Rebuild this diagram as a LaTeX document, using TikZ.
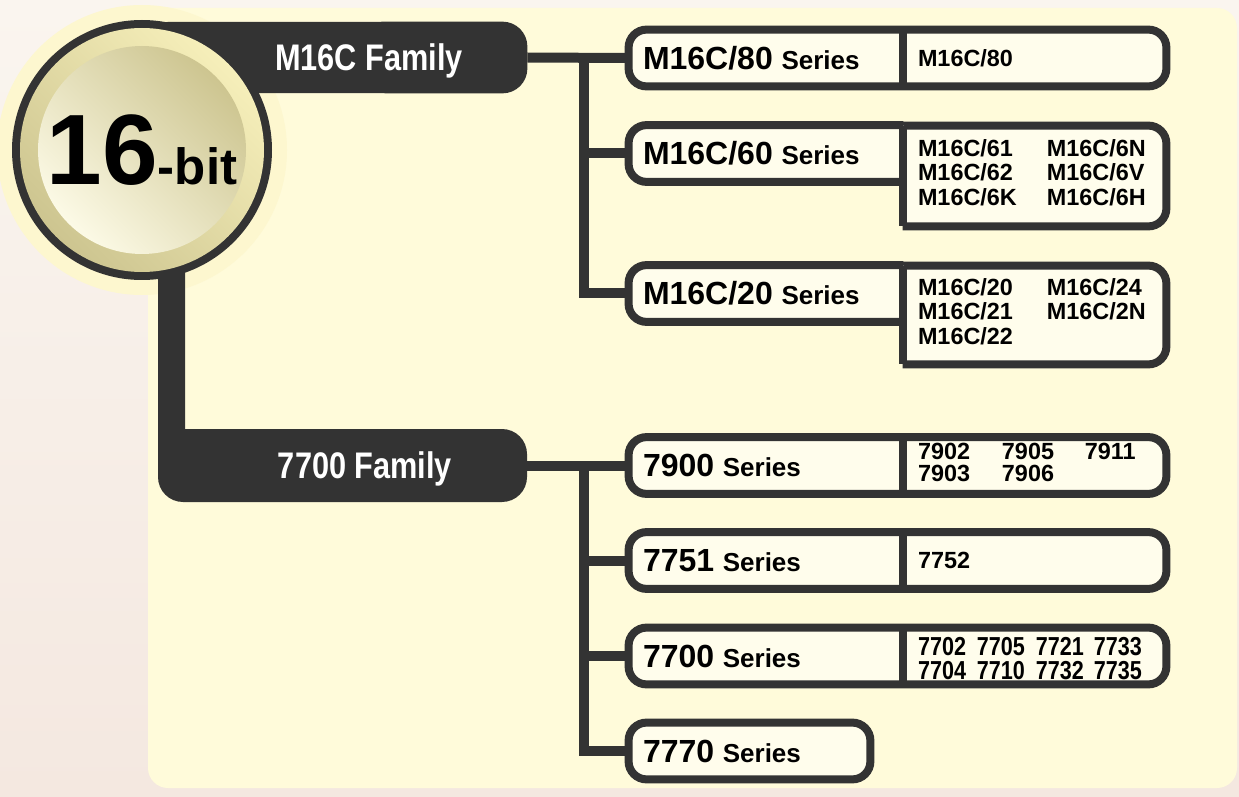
\documentclass[tikz,border=0pt]{standalone}
\usepackage{fontspec}
\setmainfont{Liberation Sans}
\newfontfamily\narrowfont{Liberation Sans}[FakeStretch=0.83]
\usetikzlibrary{backgrounds}

\definecolor{dark}{HTML}{333333}
\definecolor{panel}{HTML}{FFFBDA}
\definecolor{boxfill}{HTML}{FFFDEC}
\definecolor{halo}{HTML}{FDF7CF}
\definecolor{bgtop}{HTML}{FAF5EF}
\definecolor{bgbottom}{HTML}{F4E8E0}
\definecolor{khaki}{HTML}{CDC590}
\definecolor{paleg}{HTML}{F6EFBA}
\definecolor{lightg}{HTML}{FCFAE6}

\newcommand{\sernum}[1]{{\fontsize{16}{16}\selectfont #1}}
\newcommand{\subsize}{\fontsize{11.7}{12}\selectfont}

\begin{document}
\begin{tikzpicture}[x=0.5pt, y=-0.5pt,
    wire/.style={dark, line width=5pt},
    boxline/.style={draw=dark, fill=boxfill, line width=4pt, rounded corners=9pt, line cap=square},
    divline/.style={dark, line width=4pt, line cap=square},
    serlab/.style={inner xsep=7pt, inner ysep=0pt, text width=123pt, minimum height=28pt, align=left,
        font=\bfseries\fontsize{13}{13}\selectfont},
    items/.style={inner xsep=7.5pt, inner ysep=0pt, text width=116.5pt, minimum height=28pt, align=left,
        font=\bfseries\subsize},
    famlabel/.style={text=white, inner sep=0pt, text depth=0pt, font=\narrowfont\bfseries\fontsize{18.5}{18.5}\selectfont}]
    \useasboundingbox (0,0) rectangle (1239,797);

    % family labels and the round badge
    \node (bit16) at (142,150) {\bfseries\fontsize{50}{50}\selectfont 16\fontsize{25.5}{26}\selectfont -bit};
    \node[famlabel, minimum width=158pt, minimum height=35.5pt] (m16c) at (369,57.5) {M16C Family};
    \node[famlabel, minimum width=162pt, minimum height=36.5pt] (f7700) at (365,465.5) {7700 Family};

    % M16C series
    \node[serlab] (s80) at (766,58) {\sernum{M16C/80} Series};
    \node[items] (i80) at (1034.5,58) {M16C/80};
    \node[serlab] (s60) at (766,153.5) {\sernum{M16C/60} Series};
    \node[items, minimum height=50pt] (i60) at (1034.5,176) {\begin{tabular}{@{}p{64.5pt}@{}l@{}}
        M16C/61 & M16C/6N\\ M16C/62 & M16C/6V\\ M16C/6K & M16C/6H\end{tabular}};
    \node[serlab] (s20) at (766,293.5) {\sernum{M16C/20} Series};
    \node[items, minimum height=49pt] (i20) at (1034.5,315) {\begin{tabular}{@{}p{64.5pt}@{}l@{}}
        M16C/20 & M16C/24\\ M16C/21 & M16C/2N\\ M16C/22 & \end{tabular}};

    % 7700 series
    \node[serlab] (s79) at (766,465.5) {\sernum{7900} Series};
    \node[items] (i79) at (1034.5,465.5) {\def\arraystretch{0.88}\begin{tabular}{@{}p{42pt}@{}p{41.5pt}@{}l@{}}
        7902 & 7905 & 7911\\ 7903 & 7906 & \end{tabular}};
    \node[serlab] (s751) at (766,560.5) {\sernum{7751} Series};
    \node[items] (i751) at (1034.5,560.5) {7752};
    \node[serlab] (s77) at (766,656) {\sernum{7700} Series};
    \node[items, font=\narrowfont\bfseries\fontsize{13}{11.5}\selectfont] (i77) at (1034.5,656)
        {\def\arraystretch{0.88}\raisebox{0pt}[9.85pt][10.75pt]{\begin{tabular}[t]{@{}p{29.5pt}@{}p{29.5pt}@{}p{29pt}@{}l@{}}
        7702 & 7705 & 7721 & 7733\\ 7704 & 7710 & 7732 & 7735\end{tabular}}};
    \node[serlab, text width=106.5pt] (s770) at (749.5,751) {\sernum{7770} Series};

    \coordinate (ja) at (584,58);
    \coordinate (jb) at (584,465.5);
    \draw[wire] (m16c.east) -- (s80.west);
    \draw[wire] (ja) |- (s60.west);
    \draw[wire] (ja) |- (s20.west);
    \draw[wire] (f7700.east) -- (s79.west);
    \draw[wire] (jb) |- (s751.west);
    \draw[wire] (jb) |- (s77.west);
    \draw[wire] (jb) |- (s770.west);

    \begin{pgfonlayer}{background}
        \shade[top color=bgtop, bottom color=bgbottom] (0,0) rectangle (1239,797);
        \fill[panel, rounded corners=10pt] (148,8) rectangle (1237,788);
        \fill[halo] (bit16.center) circle[radius=72.5pt];

        \fill[dark, rounded corners=12.5pt] (m16c.north east) -- (m16c.south east) -- (143,93) -- (143,22) -- cycle;
        \fill[dark, rounded corners=12.5pt] (185,429) -- (527,429) -- (527,502) -- (158,502) -- (158,150) -- (185,150);

        \fill[dark] (bit16.center) circle[radius=65pt];
        \shade[left color=paleg, right color=khaki, shading angle=-45] (bit16.center) circle[radius=61pt];
        \shade[left color=khaki, middle color=paleg, right color=lightg, shading angle=-45] (bit16.center) circle[radius=52pt];

        % boxes of one row
        \filldraw[boxline] (s80.north west) rectangle (i80.south east);
        \draw[divline] (s80.north east) -- (s80.south east);
        \filldraw[boxline] (s79.north west) rectangle (i79.south east);
        \draw[divline] (s79.north east) -- (s79.south east);
        \filldraw[boxline] (s751.north west) rectangle (i751.south east);
        \draw[divline] (s751.north east) -- (s751.south east);
        \filldraw[boxline] (s77.north west) rectangle (i77.south east);
        \draw[divline] (s77.north east) -- (s77.south east);
        \filldraw[boxline] (s770.north west) rectangle (s770.south east);

        % boxes with a taller list
        \filldraw[boxline] (i60.south west) -- (i60.south east) -- (i60.north east) -- (i60.north west);
        \filldraw[boxline] (s60.north east) -- (s60.north west) -- (s60.south west) -- (s60.south east);
        \draw[divline] (i60.north west) -- (i60.south west);
        \filldraw[boxline] (i20.south west) -- (i20.south east) -- (i20.north east) -- (i20.north west);
        \filldraw[boxline] (s20.north east) -- (s20.north west) -- (s20.south west) -- (s20.south east);
        \draw[divline] (i20.north west) -- (i20.south west);
    \end{pgfonlayer}
\end{tikzpicture}
\end{document}
